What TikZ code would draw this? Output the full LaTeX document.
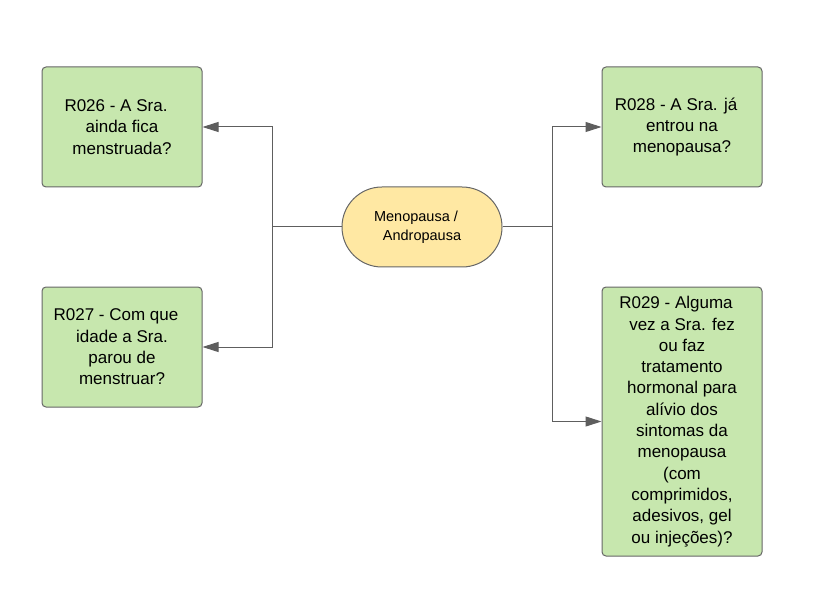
\documentclass[tikz,border=0pt]{standalone}
\usepackage{fontspec}
\setmainfont{Liberation Sans}
\usetikzlibrary{arrows.meta}
\definecolor{boxgreen}{HTML}{C7E7AE}
\definecolor{boxyellow}{HTML}{FFE8A3}
\definecolor{edgegray}{HTML}{666666}
\definecolor{linegray}{HTML}{5E5E5E}
\tikzset{
  qbox/.style={draw=edgegray, line width=1pt, fill=boxgreen, rounded corners=4pt,
    minimum width=160pt, inner sep=0pt, align=center,
    font=\fontsize{17pt}{21.3pt}\selectfont, text=black},
  topic/.style={draw=edgegray, line width=1pt, fill=boxyellow, rounded corners=39.9pt,
    minimum width=160pt, minimum height=80pt, inner sep=0pt, align=center,
    font=\fontsize{14.5pt}{19pt}\selectfont, text=black},
  conn/.style={draw=linegray, line width=1pt},
  arr/.style={conn, -{Triangle[length=16pt,width=10pt]}},
}
\begin{document}
\begin{tikzpicture}[x=1pt,y=-1pt]
\useasboundingbox (0,0) rectangle (826,601);
\node[topic] (c) at (422,227) {Menopausa /\kern12pt\\Andropausa};
\node[qbox, minimum height=120pt] (a) at (122,127) {R026 - A Sra.\kern12pt\\ainda fica\\menstruada?};
\node[qbox, minimum height=120pt] (b) at (122,347) {R027 - Com que\kern12pt\\idade a Sra.\\parou de\\menstruar?};
\node[qbox, minimum height=120pt] (d) at (682,127) {R028 - A Sra. já\kern12pt\\entrou na\\menopausa?};
\node[qbox, minimum height=269pt] (e) at (682,421.5) {R029 - Alguma\kern12pt\\vez a Sra. fez\\ou faz\\tratamento\\hormonal para\\alívio dos\\sintomas da\\menopausa\\(com\\comprimidos,\\adesivos, gel\\ou injeções)?};
\coordinate (jl) at (272,227);
\coordinate (jr) at (552,227);
\draw[conn] (c.west) -- (jl);
\draw[arr] (jl) |- (a.east);
\draw[arr] (jl) |- (b.east);
\draw[conn] (c.east) -- (jr);
\draw[arr] (jr) |- (d.west);
\draw[arr] (jr) |- (e.west);
\end{tikzpicture}
\end{document}
